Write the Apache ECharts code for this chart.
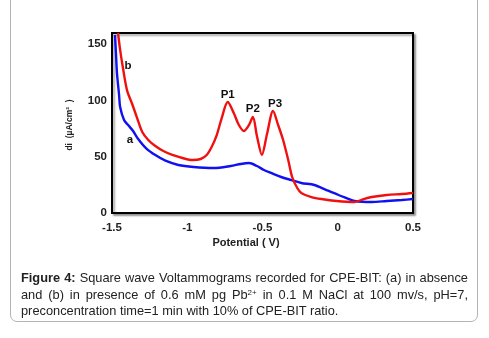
<!DOCTYPE html>
<html>
<head>
<meta charset="utf-8">
<script src="https://cdn.jsdelivr.net/npm/echarts@6/dist/echarts.min.js"></script>
<style>
	html, body { margin: 0; padding: 0; background: #fff; }
	#frame { position: absolute; left: 10px; top: -10px; width: 466px; height: 330px; border: 1.5px solid #b4b4b4; border-radius: 7px; }
	#chart { position: absolute; left: 0; top: 0; width: 489px; height: 338px; }
	#caption { position: absolute; left: 21px; top: 270px; width: 447px; font-family: "Liberation Sans", Arial, sans-serif; font-size: 12.8px; line-height: 16.5px; text-align: justify; text-align-last: left; color: #222; }
	#caption sup { font-size: 8px; line-height: 0; vertical-align: 4px; }
</style>
</head>
<body>
<div id="frame"></div>
<div id="chart"></div>
<div id="caption"><b>Figure 4:</b> Square wave Voltammograms recorded for CPE-BIT: (a) in absence and (b) in presence of 0.6 mM pg Pb<sup>2+</sup> in 0.1 M NaCl at 100 mv/s, pH=7, preconcentration time=1 min with 10% of CPE-BIT ratio.</div>
<script>
// curve (a): CPE-BIT without Pb2+
var potentialA = [-1.480, -1.473, -1.467, -1.453, -1.446, -1.420, -1.393, -1.360, -1.326, -1.273, -1.212, -1.145, -1.059, -0.958, -0.824, -0.711, -0.644, -0.590, -0.537, -0.490, -0.443, -0.376, -0.309, -0.242, -0.155, -0.075, 0.005, 0.059, 0.112, 0.226, 0.326, 0.426, 0.500];
var currentA = [158.2, 140.0, 124.4, 105.0, 94.2, 82.7, 78.2, 72.9, 65.8, 57.5, 51.5, 46.5, 42.7, 40.9, 40.0, 41.8, 43.6, 44.4, 41.8, 38.2, 35.6, 32.0, 29.3, 26.7, 24.9, 20.4, 16.0, 13.3, 10.7, 9.8, 10.7, 11.6, 12.4];

// curve (b): with 0.6 mM Pb2+
var potentialB = [-1.460, -1.446, -1.426, -1.400, -1.366, -1.333, -1.299, -1.259, -1.212, -1.159, -1.099, -1.032, -0.965, -0.911, -0.871, -0.838, -0.804, -0.771, -0.731, -0.691, -0.657, -0.624, -0.590, -0.564, -0.537, -0.504, -0.470, -0.430, -0.396, -0.363, -0.329, -0.303, -0.269, -0.242, -0.175, -0.108, -0.008, 0.112, 0.172, 0.226, 0.326, 0.426, 0.500];
var currentB = [160.0, 145.0, 128.0, 109.0, 96.9, 84.4, 72.0, 64.9, 59.5, 55.1, 51.6, 48.9, 47.1, 48.0, 51.6, 58.7, 69.3, 84.4, 98.7, 88.9, 78.2, 72.9, 78.2, 85.3, 68.4, 51.6, 70.2, 90.7, 78.2, 64.9, 47.1, 32.0, 22.2, 17.8, 14.2, 12.4, 10.7, 9.8, 12.4, 14.2, 16.0, 16.9, 17.8];

// text labels on the curves
var peakNames = ['P1', 'P2', 'P3', 'b'];
var peakPotential = [-0.731, -0.564, -0.416, -1.393];
var peakLabelY = [104.9, 92.4, 96.7, 130.7];
var curveALabel = { name: 'a', x: -1.380, y: 64.9 };

var xTicks = [-1.5, -1, -0.5, 0, 0.5];
var yTicks = [0, 50, 100, 150];

function pairs(xs, ys)
{
	var out = [];
	for (var i = 0; i < xs.length; i++)
		out.push([xs[i], ys[i]]);
	return out;
}

var labelStyle = { show: true, position: 'inside', color: '#111', fontWeight: 'bold', fontSize: 11.5, fontFamily: 'Liberation Sans', formatter: '{b}' };

var peakMarks = [];
for (var i = 0; i < peakNames.length; i++)
	peakMarks.push({ name: peakNames[i], coord: [peakPotential[i], peakLabelY[i]] });

var chart = echarts.init(document.getElementById('chart'));

var options =
{
	animation: false,
	grid:
	{
		left: 112, right: 76, top: 33, bottom: 125,
		show: true,
		backgroundColor: '#fff',
		borderColor: '#000',
		borderWidth: 2,
		shadowColor: 'rgba(0,0,0,0.35)',
		shadowBlur: 2,
		shadowOffsetX: 2,
		shadowOffsetY: 2
	},
	xAxis:
	{
		type: 'value',
		min: xTicks[0],
		max: xTicks[xTicks.length - 1],
		interval: 0.5,
		axisLine: { show: true, onZero: false, lineStyle: { color: '#000', width: 2 } },
		axisTick: { show: false },
		splitLine: { show: false },
		axisLabel: { color: '#222', fontWeight: 'bold', fontSize: 11.5, fontFamily: 'Liberation Sans', margin: 9 }
	},
	yAxis:
	{
		type: 'value',
		min: 0,
		max: 160,
		interval: 50,
		axisLine: { show: true, onZero: false, lineStyle: { color: '#000', width: 2 } },
		axisTick: { show: false },
		splitLine: { show: false },
		axisLabel:
		{
			color: '#222', fontWeight: 'bold', fontSize: 11.5, fontFamily: 'Liberation Sans', margin: 5,
			formatter: function(v) { return yTicks.indexOf(v) >= 0 ? String(v) : ''; }
		}
	},
	graphic:
	[
		{
			type: 'text', x: 246, y: 243,
			style: { text: 'Potential ( V)', fill: '#222', font: 'bold 11px "Liberation Sans"', align: 'center', verticalAlign: 'middle' }
		},
		{
			type: 'text', x: 70, y: 125, rotation: Math.PI / 2,
			style: { text: 'di  (µA/cm²  )', fill: '#222', font: 'bold 8.5px "Liberation Sans"', align: 'center', verticalAlign: 'middle' }
		}
	],
	series:
	[
		{
			name: 'a',
			type: 'line',
			data: pairs(potentialA, currentA),
			showSymbol: false,
			smooth: 0.3,
			lineStyle: { color: '#1010f0', width: 2.4 },
			markPoint:
			{
				symbol: 'circle', symbolSize: 14,
				itemStyle: { color: 'rgba(0,0,0,0)' },
				label: labelStyle,
				data: [ { name: curveALabel.name, coord: [curveALabel.x, curveALabel.y] } ]
			}
		},
		{
			name: 'b',
			type: 'line',
			data: pairs(potentialB, currentB),
			showSymbol: false,
			smooth: 0.3,
			lineStyle: { color: '#f01010', width: 2.4 },
			markPoint:
			{
				symbol: 'circle', symbolSize: 14,
				itemStyle: { color: 'rgba(0,0,0,0)' },
				label: labelStyle,
				data: peakMarks
			}
		}
	]
};

chart.setOption(options);
</script>
</body>
</html>
